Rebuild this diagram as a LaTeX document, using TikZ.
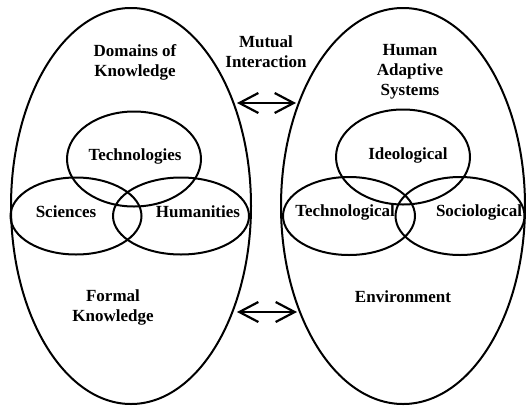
\documentclass[tikz,border=0pt]{standalone}
\usepackage{fontspec}
\setmainfont{Liberation Serif}
\usetikzlibrary{shapes.geometric,arrows.meta,positioning}

\tikzset{
  ring/.style={draw, ellipse, line width=2pt, inner sep=0pt},
  lbl/.style={align=center, font=\fontsize{17}{20}\selectfont\bfseries},
  link/.style={{Straight Barb[length=19pt,width=20pt,line width=2.2pt]}-{Straight Barb[length=19pt,width=20pt,line width=2.2pt]}, line width=2.4pt}
}

\begin{document}
\begin{tikzpicture}[x=1pt,y=-1pt]
\useasboundingbox (0,0) rectangle (526,407);

\node[ring, minimum width=240pt, minimum height=396pt] (dom) at (131,206) {};
\node[ring, minimum width=244pt, minimum height=396pt] (has) at (403,206) {};

\node[ring, minimum width=134pt, minimum height=95pt] (tecs) at (134,159) {};
\node[ring, minimum width=131pt, minimum height=77pt] (sci) at (76,216) {};
\node[ring, minimum width=136pt, minimum height=77pt] (hum) at (181,216) {};

\node[ring, minimum width=134pt, minimum height=95pt] (ideo) at (403,157) {};
\node[ring, minimum width=132pt, minimum height=78pt] (tecl) at (349,216) {};
\node[ring, minimum width=129pt, minimum height=78pt] (soc) at (460,216) {};

\node[lbl] (domt) at (135,62) {Domains of\\Knowledge};
\node[lbl] (mut) at (266,52) {Mutual\\Interaction};
\node[lbl] (hast) at (410,72) {Human\\Adaptive\\Systems};
\node[lbl] (tecst) at (135,156) {Technologies};
\node[lbl] (scit) at (66,212) {Sciences};
\node[lbl] (humt) at (198,212) {Humanities};
\node[lbl] (ideot) at (408,155) {Ideological};
\node[lbl] (teclt) at (345,212) {Technological};
\node[lbl] (soct) at (479,212) {Sociological};
\node[lbl] (form) at (113,307) {Formal\\Knowledge};
\node[lbl] (env) at (403,297) {Environment};

\coordinate (a1) at (237,103);
\coordinate (a2) at (296,103);
\coordinate (b1) at (237,312);
\coordinate (b2) at (297,312);

\draw[link] (a1) -- (a2);
\draw[link] (b1) -- (b2);
\end{tikzpicture}
\end{document}
